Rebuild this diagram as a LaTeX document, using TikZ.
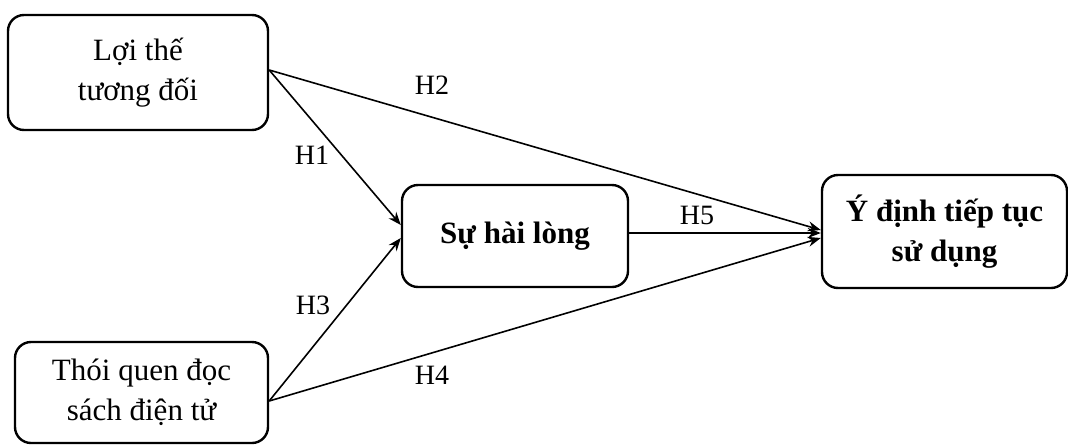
\documentclass[tikz,border=0pt]{standalone}
\usepackage{fontspec}
\setmainfont{Liberation Serif}
\usetikzlibrary{arrows.meta}
\begin{document}
\begin{tikzpicture}[x=1pt,y=-1pt,
  box/.style={draw, line width=2.4pt, rounded corners=16pt, align=center,
    font=\fontsize{31}{40}\selectfont, inner sep=0pt},
  boldbox/.style={box, font=\fontsize{31}{40}\selectfont\bfseries},
  link/.style={line width=1.6pt, -{Stealth[length=13pt,width=10pt]}},
  hlab/.style={font=\fontsize{28}{30}\selectfont, inner sep=0pt}]
  \useasboundingbox (0,0) rectangle (1068,445);
  % factor boxes
  \node[box, minimum width=260pt, minimum height=115pt] (adv) at (138,72.5)
    {Lợi thế\\tương đối};
  \node[box, minimum width=253pt, minimum height=101pt] (habit) at (141.5,392.5)
    {Thói quen đọc\\sách điện tử};
  \node[boldbox, minimum width=226pt, minimum height=102pt] (sat) at (515,236)
    {Sự hài lòng};
  \node[boldbox, minimum width=245pt, minimum height=113pt] (intent) at (944.5,231.5)
    {Ý định tiếp tục\\sử dụng};
  % hypothesis paths
  \coordinate (advout) at ([yshift=2.5pt]adv.east);
  \coordinate (habout) at ([yshift=-8.5pt]habit.east);
  \coordinate (satin1) at ([yshift=11pt]sat.west);
  \coordinate (satin3) at ([yshift=-2pt]sat.west);
  \coordinate (satout) at ([yshift=3pt]sat.east);
  \coordinate (intin2) at ([yshift=1.5pt]intent.west);
  \coordinate (intin4) at ([yshift=-6.5pt]intent.west);
  \draw[link] (advout) -- (satin1);
  \draw[link] (advout) -- (intin2);
  \draw[link] (habout) -- (satin3);
  \draw[link] (habout) -- (intin4);
  \draw[link] (satout) -- (satout -| intent.west);
  % path labels
  \node[hlab] (h1) at (312,155) {H1};
  \node[hlab] (h2) at (432,85) {H2};
  \node[hlab] (h3) at (313,305) {H3};
  \node[hlab] (h4) at (432,375) {H4};
  \node[hlab] (h5) at (697,215) {H5};
\end{tikzpicture}
\end{document}
